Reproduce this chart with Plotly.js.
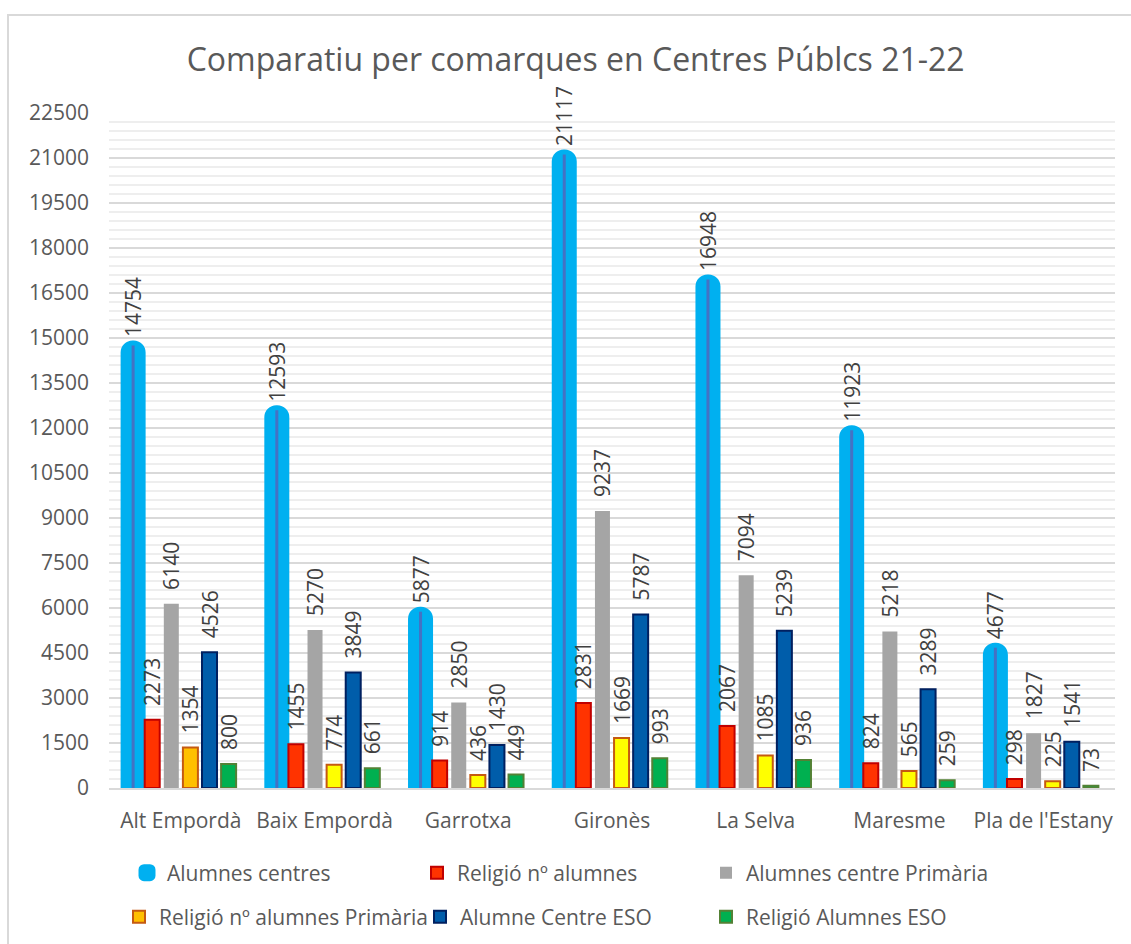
<!DOCTYPE html>
<html>
<head>
<meta charset="utf-8">
<script src="https://cdn.plot.ly/plotly-3.0.1.min.js"></script>
<style>
html,body{margin:0;padding:0;background:#fff;}
#chart{width:1131px;height:944px;}
</style>
</head>
<body>
<div id="chart"></div>
<script>
const categories = ["Alt Empordà", "Baix Empordà", "Garrotxa", "Gironès", "La Selva", "Maresme", "Pla de l'Estany"];
const alumnesCentres = [14754, 12593, 5877, 21117, 16948, 11923, 4677];
const religioAlumnes = [2273, 1455, 914, 2831, 2067, 824, 298];
const alumnesPrimaria = [6140, 5270, 2850, 9237, 7094, 5218, 1827];
const religioPrimaria = [1354, 774, 436, 1669, 1085, 565, 225];
const alumnesESO = [4526, 3849, 1430, 5787, 5239, 3289, 1541];
const religioESO = [800, 661, 449, 993, 936, 259, 73];
const yTicks = [0, 1500, 3000, 4500, 6000, 7500, 9000, 10500, 12000, 13500, 15000, 16500, 18000, 19500, 21000, 22500];

const FONT = "Open Sans, Noto Sans, sans-serif";
const W = 0.1044;            // bar width (category units)
const STEP = 0.1329;         // slot spacing
function off(i){ return (i - 2.5) * STEP - W / 2; }
const labelFont = {family: FONT, size: 21, color: "#404040"};
const NB = "\u00A0";

function barTrace(name, y, i, fill, line, lw, legend, pad){
  return {
    type: "bar", name: name, x: categories, y: y,
    width: W, offset: off(i),
    marker: {color: fill, line: {color: line, width: lw}},
    text: y.map(v => pad + String(v)), textposition: "outside", textangle: -90,
    textfont: labelFont, constraintext: "none", cliponaxis: false,
    legend: legend, hoverinfo: "x+y+name"
  };
}

const primColors = categories.map((c, k) => k === 0 ? "#FFC000" : "#FFFF00");

const cyan = barTrace("Alumnes centres", alumnesCentres, 0, "#00B0F0", "#00B0F0", 10, "legend", NB);
cyan.marker.cornerradius = 7;

const traces = [
  cyan,
  {
    type: "bar", name: "Alumnes centres (línia)", x: categories, y: alumnesCentres,
    width: 0.021, offset: -2.5 * STEP - 0.0105,
    marker: {color: "#4472C4", line: {width: 0}},
    showlegend: false, hoverinfo: "skip", cliponaxis: true
  },
  barTrace("Religió nº alumnes", religioAlumnes, 1, "#FF3300", "#C00000", 2, "legend2", NB + NB),
  barTrace("Alumnes centre Primària", alumnesPrimaria, 2, "#A5A5A5", "#A5A5A5", 0, "legend3", NB + NB),
  barTrace("Religió nº alumnes Primària", religioPrimaria, 3, primColors, "#C55A11", 2, "legend4", NB + NB),
  barTrace("Alumne Centre ESO", alumnesESO, 4, "#005DAA", "#002060", 2, "legend5", NB + NB),
  barTrace("Religió Alumnes ESO", religioESO, 5, "#00B050", "#538135", 2, "legend6", NB + NB)
];

const M = {l: 109, r: 16, t: 113, b: 156, autoexpand: false};
const PW = 1131 - M.l - M.r, PH = 944 - M.t - M.b;
function px2x(px){ return (px - M.l) / PW; }
function px2y(py){ return (944 - M.b - py) / PH; }

function legendAt(textX, cy){
  return {
    orientation: "h", x: px2x(textX - 40), xanchor: "left", y: px2y(cy), yanchor: "middle",
    font: {family: FONT, size: 21, color: "#595959"}, bgcolor: "rgba(0,0,0,0)"
  };
}

const layout = {
  width: 1131, height: 944,
  margin: M,
  paper_bgcolor: "#FFFFFF", plot_bgcolor: "#FFFFFF",
  font: {family: FONT, color: "#595959"},
  barmode: "overlay",
  title: {
    text: "Comparatiu per comarques en Centres Públcs 21-22",
    font: {family: FONT, size: 32, color: "#595959"},
    xref: "container", x: 0.509, xanchor: "center",
    yref: "container", y: 1 - 60/944, yanchor: "middle"
  },
  xaxis: {
    type: "category", range: [-0.5, 6.5],
    showline: true, linecolor: "#D9D9D9", linewidth: 2,
    showgrid: false, ticks: "", zeroline: false,
    tickfont: {family: FONT, size: 21, color: "#595959"},
    ticklabelstandoff: 13
  },
  yaxis: {
    range: [0, 22500], tickmode: "array", tickvals: yTicks, ticktext: yTicks.map(String),
    showgrid: true, gridcolor: "#D9D9D9", gridwidth: 2,
    minor: {dtick: 300, showgrid: true, gridcolor: "#EEEEEE", gridwidth: 2, ticks: ""},
    zeroline: false, showline: false, ticks: "",
    tickfont: {family: FONT, size: 21, color: "#595959"},
    ticklabelstandoff: 19
  },
  legend: legendAt(167, 873),
  legend2: legendAt(457, 873),
  legend3: legendAt(746, 873),
  legend4: legendAt(159, 917),
  legend5: legendAt(460, 917),
  legend6: legendAt(746, 917),
  shapes: [{
    type: "rect", xref: "paper", yref: "paper", layer: "below",
    x0: px2x(8), x1: px2x(1145), y0: px2y(960), y1: px2y(15),
    line: {color: "#D9D9D9", width: 2}, fillcolor: "rgba(0,0,0,0)"
  }]
};

Plotly.newPlot("chart", traces, layout, {displayModeBar: false, staticPlot: true});
</script>
</body>
</html>
